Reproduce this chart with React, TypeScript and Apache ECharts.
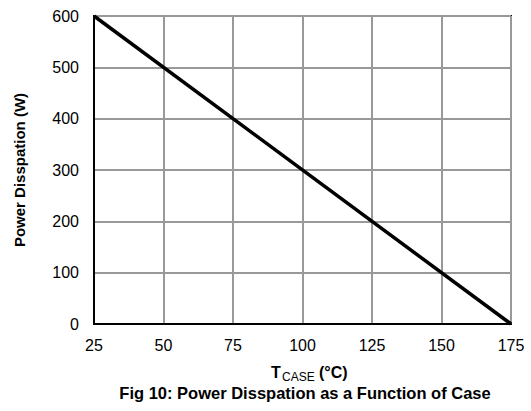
import React, { useEffect, useRef } from "react";
import * as echarts from "echarts";

// Case temperature (°C) and allowed power dissipation (W)
const caseTemps = [25, 175];
const powerWatts = [600, 0];

const xTicks = { min: 25, max: 175, interval: 25 };
const yTicks = { min: 0, max: 600, interval: 100 };

const yTitle = "Power Disspation (W)";
const figCaption = "Fig 10: Power Disspation as a Function of Case";

const FONT = "'Liberation Sans', Arial, Helvetica, sans-serif";

export default function App() {
  const ref = useRef<HTMLDivElement>(null);

  useEffect(() => {
    if (!ref.current) return;
    const chart = echarts.init(ref.current, null, { renderer: "svg" });
    const points = caseTemps.map((t, i) => [t, powerWatts[i]]);

    chart.setOption({
      animation: false,
      backgroundColor: "#ffffff",
      grid: {
        left: 94,
        top: 16,
        right: 20,
        bottom: 87,
        show: true,
        borderColor: "#000000",
        borderWidth: 2,
      },
      xAxis: {
        type: "value",
        min: xTicks.min,
        max: xTicks.max,
        interval: xTicks.interval,
        axisLine: { show: true, lineStyle: { color: "#000000", width: 2 } },
        axisTick: { show: false },
        splitLine: { show: true, lineStyle: { color: "#999999", width: 2 } },
        axisLabel: {
          color: "#000000",
          fontSize: 16,
          fontFamily: FONT,
          margin: 13,
        },
      },
      yAxis: {
        type: "value",
        min: yTicks.min,
        max: yTicks.max,
        interval: yTicks.interval,
        axisLine: { show: true, lineStyle: { color: "#000000", width: 2 } },
        axisTick: { show: false },
        splitLine: { show: true, lineStyle: { color: "#999999", width: 2 } },
        axisLabel: {
          color: "#000000",
          fontSize: 16,
          fontFamily: FONT,
          margin: 15,
        },
      },
      series: [
        {
          type: "line",
          data: points,
          symbol: "none",
          lineStyle: { color: "#000000", width: 3.5 },
          z: 5,
        },
      ],
      graphic: [
        {
          type: "text",
          x: 19,
          y: 170,
          rotation: Math.PI / 2,
          style: {
            text: yTitle,
            fill: "#000000",
            font: `bold 15px ${FONT}`,
            align: "center",
            verticalAlign: "middle",
          },
        },
        {
          type: "text",
          x: 271,
          y: 380,
          style: {
            text: "T",
            fill: "#000000",
            font: `bold 16px ${FONT}`,
            align: "left",
            verticalAlign: "bottom",
          },
        },
        {
          type: "text",
          x: 282,
          y: 383,
          style: {
            text: "CASE",
            fill: "#000000",
            font: `12px ${FONT}`,
            align: "left",
            verticalAlign: "bottom",
          },
        },
        {
          type: "text",
          x: 319,
          y: 380,
          style: {
            text: "(°C)",
            fill: "#000000",
            font: `bold 16px ${FONT}`,
            align: "left",
            verticalAlign: "bottom",
          },
        },
        {
          type: "text",
          x: 305,
          y: 393,
          style: {
            text: figCaption,
            fill: "#000000",
            font: `bold 16.5px ${FONT}`,
            align: "center",
            verticalAlign: "middle",
          },
        },
      ],
    });

    return () => chart.dispose();
  }, []);

  return (
    <div
      ref={ref}
      style={{ position: "fixed", left: 0, top: 0, width: 531, height: 411 }}
    />
  );
}
